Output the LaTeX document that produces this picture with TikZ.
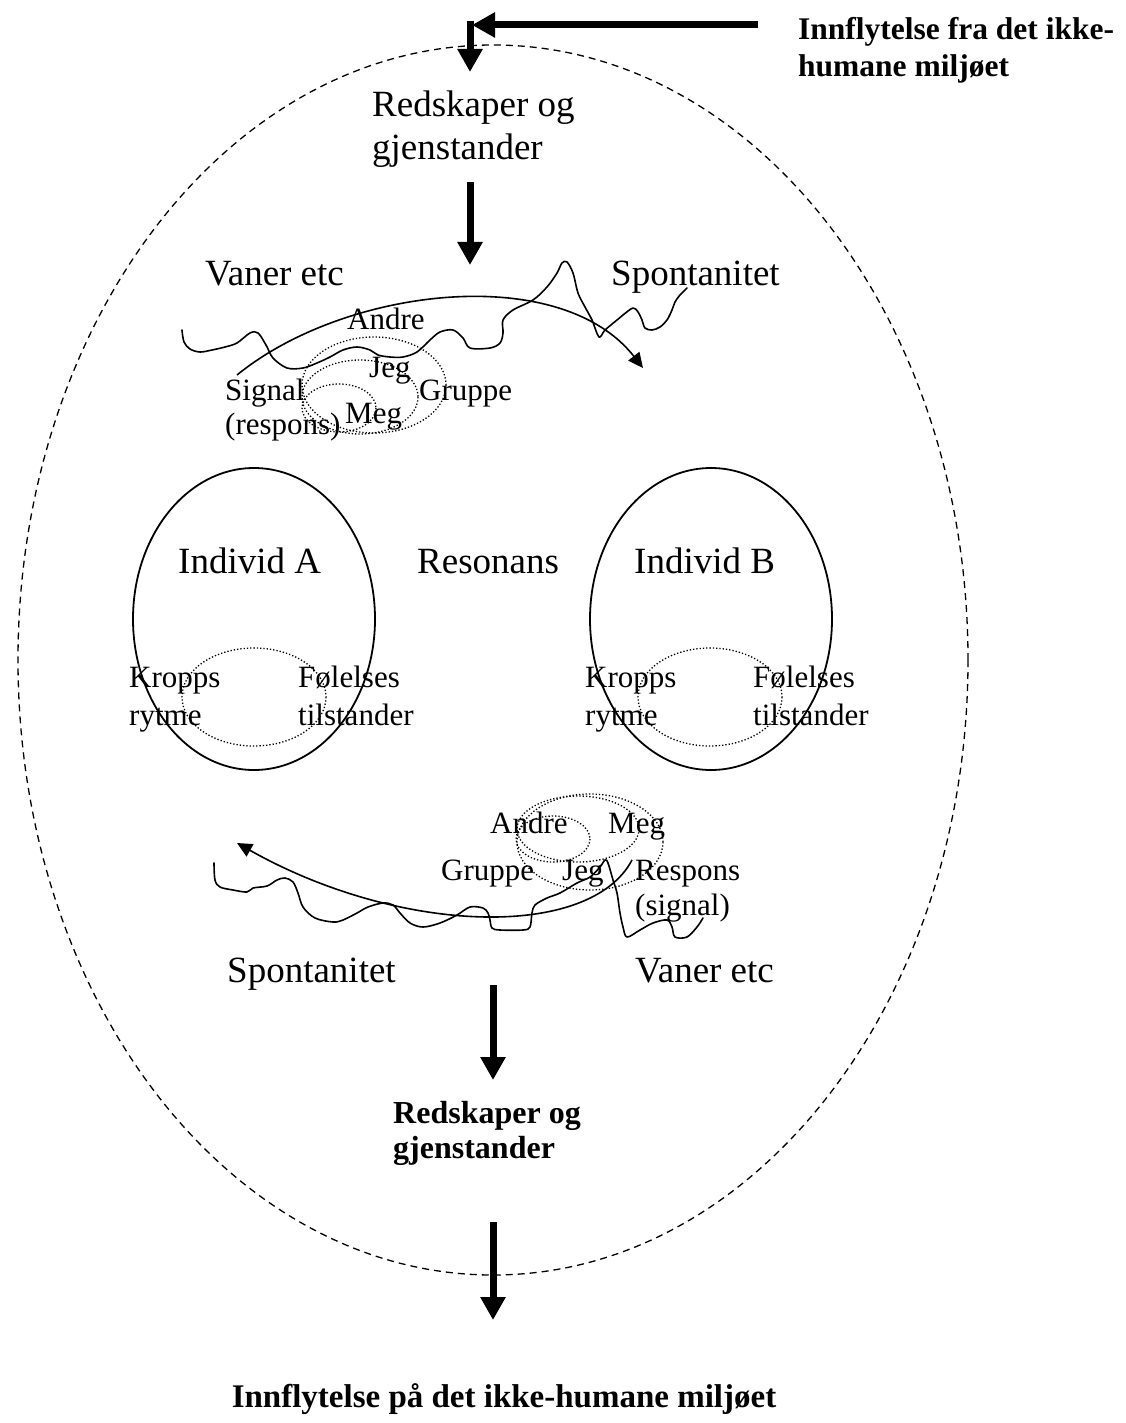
\documentclass[tikz,border=0pt]{standalone}
\usepackage{fontspec}
\setmainfont{Liberation Serif}[Ligatures=CommonOff]
\usetikzlibrary{arrows.meta}
\tikzset{
  big/.style={font=\fontsize{37}{42}\selectfont, inner sep=0pt, anchor=base west},
  small/.style={font=\fontsize{31}{36}\selectfont, inner sep=0pt, anchor=base west},
  boldtxt/.style={font=\fontsize{32}{37}\selectfont\bfseries, inner sep=0pt, anchor=base west},
  fat/.style={line width=7pt, -{Triangle[length=23pt,width=24pt]}},
  thinarrow/.style={line width=1.6pt, -{Triangle[length=15pt,width=14pt]}},
  wave/.style={line width=1.6pt, line join=round, line cap=round},
  dots/.style={line width=1.3pt, dash pattern=on 1.3pt off 2pt},
  outerline/.style={line width=1.3pt, dash pattern=on 7pt off 5pt},
  body/.style={line width=1.8pt},
}
\begin{document}
\begin{tikzpicture}[x=1pt, y=-1pt]
\useasboundingbox (0,0) rectangle (1126,1423);

% outer dashed ellipse
\draw[outerline] (493,660) ellipse [x radius=475, y radius=615];

% top arrows
\coordinate (hstart) at (758,25);
\coordinate (hend) at (472,25);
\coordinate (vstart) at (470,21);
\coordinate (vend) at (470,72);
\draw[fat] (hstart) -- (hend);
\draw[fat] (vstart) -- (vend);

\node[boldtxt, font=\fontsize{31.5}{36}\selectfont\bfseries] (inf1) at (798,40) {Innflytelse fra det ikke-};
\node[boldtxt, font=\fontsize{31.5}{36}\selectfont\bfseries] (inf2) at (798,77) {humane miljøet};

\node[big] (red1) at (372,117) {Redskaper og};
\node[big] (red2) at (372,160) {gjenstander};

\coordinate (a2s) at (470,182);
\coordinate (a2e) at (470,265);
\draw[fat] (a2s) -- (a2e);

% top wave area
\node[big] (vaner1) at (205,285) {Vaner etc};
\node[big] (spont1) at (611,285) {Spontanitet};

\draw[wave] plot[smooth, tension=0.55] coordinates {
(182,330) (184,342) (190,349) (200,352) (212,350) (225,347) (237,343) (250,333) (258,333)
(266,345) (273,358) (287,368) (303,368) (317,363) (330,357) (343,350) (357,347) (370,350)
(378,355) (390,357) (403,357) (417,352) (430,340) (440,332) (453,330) (463,338) (470,348)
(490,348) (500,343) (503,333) (503,320) (513,310) (533,300) (547,287) (557,273) (562,263)
(567,262) (573,273) (578,293) (585,307) (592,320) (599,337) (605,330) (617,320) (623,315)
(633,308) (638,312) (642,320) (645,328) (652,330) (660,327) (667,320) (672,310) (675,302)
(680,295) (687,288)};

\coordinate (arc1s) at (237,375);
\coordinate (arc1e) at (643,368);
\draw[thinarrow] (arc1s) .. controls (345,287) and (560,262) .. (arc1e);

\draw[dots] (374,385) ellipse [x radius=72, y radius=48];
\draw[dots] (360,397) ellipse [x radius=58, y radius=37];
\draw[dots] (339,408) ellipse [x radius=37, y radius=24];

\node[small] (andre1) at (347,329) {Andre};
\node[small] (jeg1) at (369,377) {Jeg};
\node[small] (gruppe1) at (419,400) {Gruppe};
\node[small] (signal1) at (225,400) {Signal};
\node[small] (respons1) at (225,434) {(respons)};
\node[small] (meg1) at (345,423) {Meg};

% individuals
\draw[body] (254,619) ellipse [x radius=121, y radius=151];
\draw[body] (711,619) ellipse [x radius=121, y radius=151];
\draw[dots] (254,697) ellipse [x radius=72, y radius=49];
\draw[dots] (710,697) ellipse [x radius=72, y radius=49];

\node[big] (indA) at (178,573) {Individ A};
\node[big] (reson) at (417,573) {Resonans};
\node[big] (indB) at (634,573) {Individ B};

\node[small] (krA1) at (129,687) {Kropps};
\node[small] (krA2) at (129,725) {rytme};
\node[small] (foA1) at (298,687) {Følelses};
\node[small] (foA2) at (298,725) {tilstander};
\node[small] (krB1) at (585,687) {Kropps};
\node[small] (krB2) at (585,725) {rytme};
\node[small] (foB1) at (753,687) {Følelses};
\node[small] (foB2) at (753,725) {tilstander};

% bottom wave area
\draw[dots] (590,842) ellipse [x radius=73, y radius=48];
\draw[dots] (578,829) ellipse [x radius=61, y radius=33];
\draw[dots] (553,839) ellipse [x radius=37, y radius=23];

\node[small] (andre2) at (490,833) {Andre};
\node[small] (meg2) at (608,833) {Meg};
\node[small] (gruppe2) at (441,880) {Gruppe};
\node[small] (jeg2) at (562,880) {Jeg};
\node[small] (respons2) at (635,880) {Respons};
\node[small] (signal2) at (635,915) {(signal)};

\draw[wave] plot[smooth, tension=0.55] coordinates {
(214,863) (215,880) (220,887) (233,890) (247,892) (253,888) (267,886) (277,880) (285,878)
(293,882) (298,893) (303,907) (315,918) (333,922) (343,920) (357,913) (368,907) (383,903)
(393,905) (400,913) (410,923) (423,927) (440,923) (457,915) (470,907) (483,908) (488,913)
(490,920) (492,928) (500,930) (523,930) (530,927) (532,913) (535,905) (547,898) (560,893)
(577,883) (590,877) (600,867) (605,860) (608,863) (613,880) (617,893) (620,913) (623,927)
(627,937) (640,930) (653,923) (667,920) (672,927) (675,937) (687,937) (697,927) (703,918)};

\coordinate (arc2s) at (632,860);
\coordinate (arc2e) at (237,843);
\draw[thinarrow] (arc2s) .. controls (590,940) and (400,935) .. (arc2e);

\node[big] (spont2) at (227,982) {Spontanitet};
\node[big] (vaner2) at (635,982) {Vaner etc};

\coordinate (a3s) at (493,985);
\coordinate (a3e) at (493,1080);
\draw[fat] (a3s) -- (a3e);

\node[boldtxt] (red3) at (393,1123) {Redskaper og};
\node[boldtxt] (red4) at (393,1158) {gjenstander};

\coordinate (a4s) at (493,1222);
\coordinate (a4e) at (493,1320);
\draw[fat] (a4s) -- (a4e);

\node[boldtxt, font=\fontsize{33}{38}\selectfont\bfseries, anchor=base] (infb) at (504,1407) {Innflytelse på det ikke-humane miljøet};
\end{tikzpicture}
\end{document}
